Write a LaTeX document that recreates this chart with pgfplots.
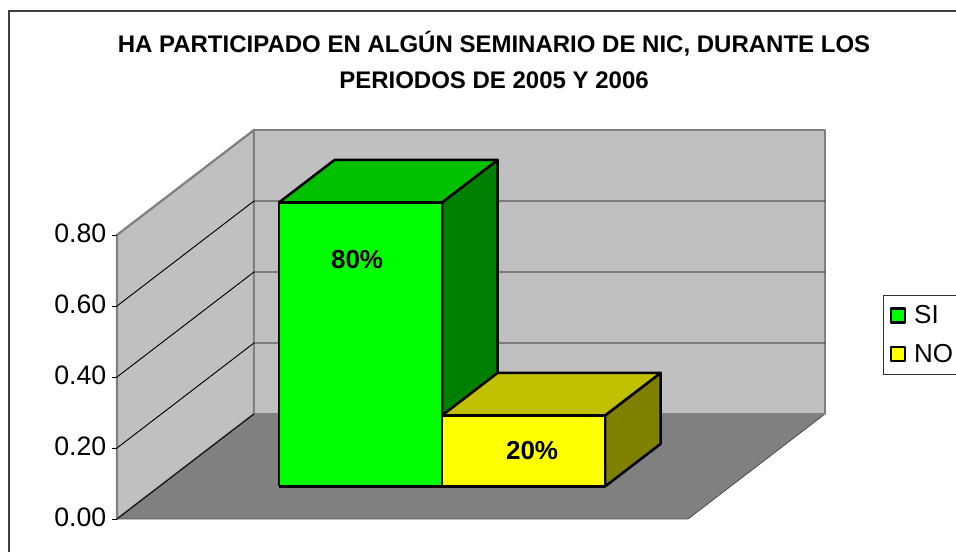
\documentclass[border=0pt]{standalone}
\usepackage{fontspec}
\setmainfont{Liberation Sans}
\usepackage{pgfplots}
\pgfplotsset{compat=1.18}
\definecolor{wallc}{HTML}{C0C0C0}
\definecolor{floorc}{HTML}{808080}
\definecolor{edgec}{HTML}{808080}
\definecolor{gfront}{HTML}{00FF00}
\definecolor{gtop}{HTML}{00C000}
\definecolor{gside}{HTML}{008000}
\definecolor{yfront}{HTML}{FFFF00}
\definecolor{ytop}{HTML}{C0C000}
\definecolor{yside}{HTML}{808000}
\begin{document}
\begin{tikzpicture}
\path[use as bounding box] (0pt,0pt) rectangle (717pt,414pt);
\draw[color=black!75, line width=1.2pt] (6.75pt,-5pt) -- (6.75pt,405.75pt) -- (725pt,405.75pt);
\begin{axis}[
  at={(87.75pt,24.75pt)}, anchor=origin,
  x={(0.75pt,0pt)}, y={(102.75pt,78.75pt)}, z={(0pt,266.25pt)},
  xmin=0, xmax=571, ymin=0, ymax=1, zmin=0, zmax=0.8,
  clip=false,
  axis line style={draw=none},
  xtick=\empty, ytick=\empty,
  ztick={0,0.2,0.4,0.6,0.8},
  zticklabel pos=left,
  ztick pos=left,
  tick style={draw=none},
  major tick length=0pt,
  z tick label style={font=\fontsize{20pt}{22pt}\selectfont, xshift=-4.5pt, yshift=9pt},
  /pgf/number format/assume math mode=true,
  /pgf/number format/fixed, /pgf/number format/fixed zerofill, /pgf/number format/precision=2,
  title={HA PARTICIPADO EN ALGÚN SEMINARIO DE NIC, DURANTE LOS\\PERIODOS DE 2005 Y 2006},
  title style={at={(axis cs:377,0,1.27)}, anchor=center, align=center,
    font=\bfseries\fontsize{18pt}{27.5pt}\selectfont},
  no markers,
  legend style={at={(axis cs:766,0,0.63)}, anchor=north west,
    font=\fontsize{19.5pt}{22pt}\selectfont, draw=black!80, line width=0.6pt,
    cells={anchor=west}, row sep=10pt, column sep=4pt, inner xsep=5pt, inner ysep=5.5pt},
]
% floor
\addplot3[forget plot, fill=floorc, draw=black!70, line width=0.6pt]
  coordinates {(0,0,0) (571,0,0) (571,1,0) (0,1,0) (0,0,0)};
% left wall
\addplot3[forget plot, fill=wallc, draw=edgec, line width=1.7pt, line join=round]
  coordinates {(0,0,0) (0,1,0) (0,1,0.8) (0,0,0.8) (0,0,0)};
% back wall
\addplot3[forget plot, fill=wallc, draw=edgec, line width=1.7pt, line join=round]
  coordinates {(0,1,0) (571,1,0) (571,1,0.8) (0,1,0.8) (0,1,0)};
% gridlines
\addplot3[forget plot, black, line width=0.7pt] coordinates {(0,0,0) (0,1,0)};
\addplot3[forget plot, black, line width=0.7pt] coordinates {(0,0,0.2) (0,1,0.2) (571,1,0.2)};
\addplot3[forget plot, black, line width=0.7pt] coordinates {(0,0,0.4) (0,1,0.4) (571,1,0.4)};
\addplot3[forget plot, black, line width=0.7pt] coordinates {(0,0,0.6) (0,1,0.6) (571,1,0.6)};
% tick marks on the value axis
\addplot3[forget plot, black, line width=0.7pt] coordinates {(-5,0,0) (0,0,0)};
\addplot3[forget plot, black, line width=0.7pt] coordinates {(-5,0,0.2) (0,0,0.2)};
\addplot3[forget plot, black, line width=0.7pt] coordinates {(-5,0,0.4) (0,0,0.4)};
\addplot3[forget plot, black, line width=0.7pt] coordinates {(-5,0,0.6) (0,0,0.6)};
\addplot3[forget plot, black, line width=0.7pt] coordinates {(-5,0,0.8) (0,0,0.8)};
% bar SI (0.80)
\addplot3[forget plot, fill=gside, draw=black, line width=1.9pt, line join=round]
  coordinates {(282.6,0.31,0) (282.6,0.715,0) (282.6,0.715,0.80) (282.6,0.31,0.80) (282.6,0.31,0)};
\addplot3[forget plot, fill=gtop, draw=black, line width=1.9pt, line join=round]
  coordinates {(119.6,0.31,0.80) (282.6,0.31,0.80) (282.6,0.715,0.80) (119.6,0.715,0.80) (119.6,0.31,0.80)};
\addplot3[fill=gfront, draw=black, line width=1.9pt, line join=round,
  legend image code/.code={\draw[fill=gfront, draw=black, line width=1.6pt] (0pt,-5pt) rectangle (10.5pt,5.5pt);}]
  coordinates {(119.6,0.31,0) (282.6,0.31,0) (282.6,0.31,0.80) (119.6,0.31,0.80) (119.6,0.31,0)};
\addlegendentry{SI}
% bar NO (0.20)
\addplot3[forget plot, fill=yside, draw=black, line width=1.9pt, line join=round]
  coordinates {(445.6,0.31,0) (445.6,0.715,0) (445.6,0.715,0.20) (445.6,0.31,0.20) (445.6,0.31,0)};
\addplot3[forget plot, fill=ytop, draw=black, line width=1.9pt, line join=round]
  coordinates {(282.6,0.31,0.20) (445.6,0.31,0.20) (445.6,0.715,0.20) (282.6,0.715,0.20) (282.6,0.31,0.20)};
\addplot3[fill=yfront, draw=black, line width=1.9pt, line join=round,
  legend image code/.code={\draw[fill=yfront, draw=black, line width=1.6pt] (0pt,-5pt) rectangle (10.5pt,5.5pt);}]
  coordinates {(282.6,0.31,0) (445.6,0.31,0) (445.6,0.31,0.20) (282.6,0.31,0.20) (282.6,0.31,0)};
\addlegendentry{NO}
% data labels
\node[font=\bfseries\fontsize{19.5pt}{22pt}\selectfont] at (axis cs:197.6,0.31,0.64) {80\%};
\node[font=\bfseries\fontsize{19.5pt}{22pt}\selectfont] at (axis cs:372.6,0.31,0.1) {20\%};
\end{axis}
\end{tikzpicture}
\end{document}
